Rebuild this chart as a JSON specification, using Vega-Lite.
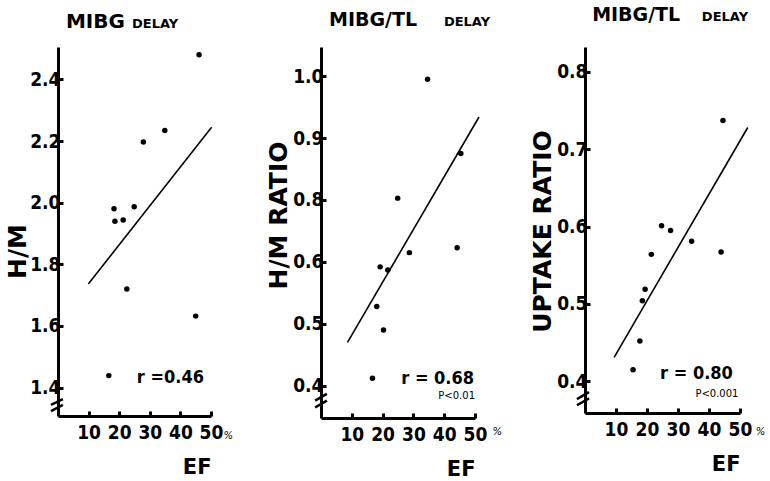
{
  "$schema": "https://vega.github.io/schema/vega-lite/v6.json",
  "background": "white",
  "padding": {"left": 5, "top": 5, "right": 5, "bottom": 2},
  "spacing": 110,
  "bounds": "flush",
  "config": {
    "view": {"stroke": null},
    "axis": {
      "domainColor": "black", "domainWidth": 3, "tickColor": "black", "tickWidth": 3, "tickSize": -5,
      "grid": false, "labelFont": "DejaVu Sans Condensed", "labelFontSize": 19, "labelFontWeight": "bold",
      "labelColor": "black", "titleFont": "DejaVu Sans", "titleFontWeight": "bold", "titleColor": "black"
    },
    "axisX": {"labelPadding": 12, "labelFlush": false, "titleFontSize": 21, "titleAnchor": "end", "titleBaseline": "middle", "titleY": 51},
    "axisY": {"titleFontSize": 25, "titleBaseline": "middle", "titleAlign": "center", "titleAngle": 270, "labelPadding": 3, "labelFlush": false}
  },
  "datasets": {
    "pts1": [
      {"ef": 46.1, "val": 2.48}, {"ef": 34.9, "val": 2.234}, {"ef": 27.9, "val": 2.197},
      {"ef": 18.3, "val": 1.98}, {"ef": 24.9, "val": 1.987}, {"ef": 18.6, "val": 1.94},
      {"ef": 21.3, "val": 1.944}, {"ef": 22.5, "val": 1.72}, {"ef": 45.0, "val": 1.632},
      {"ef": 16.6, "val": 1.439}
    ],
    "fit1": [{"ef": 9.9, "val": 1.736, "ef2": 50.2, "val2": 2.245}],
    "brk1": [{"ef": -2.3, "val": 1.344, "ef2": 1.6, "val2": 1.363}, {"ef": -2.3, "val": 1.324, "ef2": 1.6, "val2": 1.344}],
    "big1": [{"ef": 2.6, "val": 2.567, "text": "MIBG"}],
    "small1": [{"ef": 24.2, "val": 2.567, "text": "DELAY"}],
    "r1": [{"ef": 47.7, "val": 1.431, "text": "r =0.46"}],
    "pct1": [{"ef": 55.6, "val": 1.243, "text": "%"}],
    "pts2": [
      {"ef": 34.6, "val": 0.895}, {"ef": 45.4, "val": 0.775}, {"ef": 24.9, "val": 0.703},
      {"ef": 28.7, "val": 0.615}, {"ef": 44.2, "val": 0.623}, {"ef": 19.2, "val": 0.592},
      {"ef": 21.7, "val": 0.587}, {"ef": 18.1, "val": 0.528}, {"ef": 20.3, "val": 0.49},
      {"ef": 16.7, "val": 0.412}
    ],
    "fit2": [{"ef": 8.6, "val": 0.47, "ef2": 51.3, "val2": 0.834}],
    "brk2": [{"ef": -1.9, "val": 0.376, "ef2": 1.9, "val2": 0.387}, {"ef": -1.9, "val": 0.365, "ef2": 1.9, "val2": 0.376}],
    "big2": [{"ef": 2.6, "val": 0.981, "text": "MIBG/TL"}],
    "small2": [{"ef": 39.9, "val": 0.981, "text": "DELAY"}],
    "r2": [{"ef": 49.7, "val": 0.411, "text": "r = 0.68"}],
    "p2": [{"ef": 50, "val": 0.384, "text": "P<0.01"}],
    "pct2": [{"ef": 57.2, "val": 0.326, "text": "%"}],
    "pts3": [
      {"ef": 44.5, "val": 0.737}, {"ef": 24.7, "val": 0.601}, {"ef": 27.6, "val": 0.595},
      {"ef": 34.4, "val": 0.581}, {"ef": 43.9, "val": 0.567}, {"ef": 21.4, "val": 0.564},
      {"ef": 19.4, "val": 0.519}, {"ef": 18.5, "val": 0.504}, {"ef": 17.7, "val": 0.452},
      {"ef": 15.5, "val": 0.415}
    ],
    "fit3": [{"ef": 9.4, "val": 0.431, "ef2": 52.5, "val2": 0.728}],
    "brk3": [{"ef": -2.6, "val": 0.377, "ef2": 1.3, "val2": 0.386}, {"ef": -2.6, "val": 0.369, "ef2": 1.3, "val2": 0.378}],
    "big3": [{"ef": 2.3, "val": 0.866, "text": "MIBG/TL"}],
    "small3": [{"ef": 37.7, "val": 0.866, "text": "DELAY"}],
    "r3": [{"ef": 47.7, "val": 0.41, "text": "r = 0.80"}],
    "p3": [{"ef": 49.5, "val": 0.384, "text": "P<0.001"}],
    "pct3": [{"ef": 56.6, "val": 0.334, "text": "%"}]
  },
  "hconcat": [
    {
      "width": 153, "height": 369,
      "encoding": {
        "x": {"field": "ef", "type": "quantitative", "scale": {"domain": [0, 50], "nice": false, "zero": false},
              "axis": {"values": [10, 20, 30, 40, 50], "title": "EF"}},
        "y": {"field": "val", "type": "quantitative", "scale": {"domain": [1.308, 2.505], "nice": false, "zero": false},
              "axis": {"values": [1.4, 1.6, 1.8, 2.0, 2.2, 2.4], "format": ".1f", "title": "H/M", "titleX": -41, "titleY": 204}}
      },
      "layer": [
        {"data": {"name": "pts1"}, "mark": {"type": "circle", "size": 30, "color": "black", "opacity": 1}},
        {"data": {"name": "fit1"}, "mark": {"type": "rule", "color": "black", "strokeWidth": 1.6},
         "encoding": {"x2": {"field": "ef2"}, "y2": {"field": "val2"}}},
        {"data": {"name": "brk1"}, "mark": {"type": "rule", "color": "black", "strokeWidth": 2.5},
         "encoding": {"x2": {"field": "ef2"}, "y2": {"field": "val2"}}},
        {"data": {"name": "big1"}, "mark": {"type": "text", "font": "DejaVu Sans", "fontWeight": "bold", "fontSize": 20, "align": "left", "baseline": "alphabetic", "color": "black"},
         "encoding": {"text": {"field": "text"}}},
        {"data": {"name": "small1"}, "mark": {"type": "text", "font": "DejaVu Sans", "fontWeight": "bold", "fontSize": 13, "align": "left", "baseline": "alphabetic", "color": "black"},
         "encoding": {"text": {"field": "text"}}},
        {"data": {"name": "r1"}, "mark": {"type": "text", "font": "DejaVu Sans Condensed", "fontWeight": "bold", "fontSize": 18, "align": "right", "baseline": "middle", "color": "black"},
         "encoding": {"text": {"field": "text"}}},
        {"data": {"name": "pct1"}, "mark": {"type": "text", "font": "DejaVu Sans", "fontStyle": "italic", "fontSize": 10, "align": "center", "baseline": "middle", "color": "black"},
         "encoding": {"text": {"field": "text"}}}
      ]
    },
    {
      "width": 154, "height": 371,
      "encoding": {
        "x": {"field": "ef", "type": "quantitative", "scale": {"domain": [0, 50], "nice": false, "zero": false},
              "axis": {"values": [10, 20, 30, 40, 50], "title": "EF"}},
        "y": {"field": "val", "type": "quantitative", "scale": {"domain": [0.348, 0.947], "nice": false, "zero": false},
              "axis": {"values": [0.4, 0.5, 0.6, 0.7, 0.8, 0.9], "labelExpr": "datum.value > 0.65 ? format(datum.value + 0.1, '.1f') : format(datum.value, '.1f')",
                       "title": "H/M RATIO", "titleX": -43, "titleY": 168}}
      },
      "layer": [
        {"data": {"name": "pts2"}, "mark": {"type": "circle", "size": 30, "color": "black", "opacity": 1}},
        {"data": {"name": "fit2"}, "mark": {"type": "rule", "color": "black", "strokeWidth": 1.6},
         "encoding": {"x2": {"field": "ef2"}, "y2": {"field": "val2"}}},
        {"data": {"name": "brk2"}, "mark": {"type": "rule", "color": "black", "strokeWidth": 2.5},
         "encoding": {"x2": {"field": "ef2"}, "y2": {"field": "val2"}}},
        {"data": {"name": "big2"}, "mark": {"type": "text", "font": "DejaVu Sans", "fontWeight": "bold", "fontSize": 19, "align": "left", "baseline": "alphabetic", "color": "black"},
         "encoding": {"text": {"field": "text"}}},
        {"data": {"name": "small2"}, "mark": {"type": "text", "font": "DejaVu Sans", "fontWeight": "bold", "fontSize": 13, "align": "left", "baseline": "alphabetic", "color": "black"},
         "encoding": {"text": {"field": "text"}}},
        {"data": {"name": "r2"}, "mark": {"type": "text", "font": "DejaVu Sans Condensed", "fontWeight": "bold", "fontSize": 18, "align": "right", "baseline": "middle", "color": "black"},
         "encoding": {"text": {"field": "text"}}},
        {"data": {"name": "p2"}, "mark": {"type": "text", "font": "DejaVu Sans", "fontSize": 10, "align": "right", "baseline": "middle", "color": "black"},
         "encoding": {"text": {"field": "text"}}},
        {"data": {"name": "pct2"}, "mark": {"type": "text", "font": "DejaVu Sans", "fontStyle": "italic", "fontSize": 10, "align": "center", "baseline": "middle", "color": "black"},
         "encoding": {"text": {"field": "text"}}}
      ]
    },
    {
      "width": 155, "height": 366,
      "encoding": {
        "x": {"field": "ef", "type": "quantitative", "scale": {"domain": [0, 50], "nice": false, "zero": false},
              "axis": {"values": [10, 20, 30, 40, 50], "title": "EF"}},
        "y": {"field": "val", "type": "quantitative", "scale": {"domain": [0.359, 0.832], "nice": false, "zero": false},
              "axis": {"values": [0.4, 0.5, 0.6, 0.7, 0.8], "format": ".1f", "title": "UPTAKE RATIO", "titleX": -43, "titleY": 184}}
      },
      "layer": [
        {"data": {"name": "pts3"}, "mark": {"type": "circle", "size": 30, "color": "black", "opacity": 1}},
        {"data": {"name": "fit3"}, "mark": {"type": "rule", "color": "black", "strokeWidth": 1.6},
         "encoding": {"x2": {"field": "ef2"}, "y2": {"field": "val2"}}},
        {"data": {"name": "brk3"}, "mark": {"type": "rule", "color": "black", "strokeWidth": 2.5},
         "encoding": {"x2": {"field": "ef2"}, "y2": {"field": "val2"}}},
        {"data": {"name": "big3"}, "mark": {"type": "text", "font": "DejaVu Sans", "fontWeight": "bold", "fontSize": 19, "align": "left", "baseline": "alphabetic", "color": "black"},
         "encoding": {"text": {"field": "text"}}},
        {"data": {"name": "small3"}, "mark": {"type": "text", "font": "DejaVu Sans", "fontWeight": "bold", "fontSize": 13, "align": "left", "baseline": "alphabetic", "color": "black"},
         "encoding": {"text": {"field": "text"}}},
        {"data": {"name": "r3"}, "mark": {"type": "text", "font": "DejaVu Sans Condensed", "fontWeight": "bold", "fontSize": 18, "align": "right", "baseline": "middle", "color": "black"},
         "encoding": {"text": {"field": "text"}}},
        {"data": {"name": "p3"}, "mark": {"type": "text", "font": "DejaVu Sans", "fontSize": 10, "align": "right", "baseline": "middle", "color": "black"},
         "encoding": {"text": {"field": "text"}}},
        {"data": {"name": "pct3"}, "mark": {"type": "text", "font": "DejaVu Sans", "fontStyle": "italic", "fontSize": 10, "align": "center", "baseline": "middle", "color": "black"},
         "encoding": {"text": {"field": "text"}}}
      ]
    }
  ]
}
